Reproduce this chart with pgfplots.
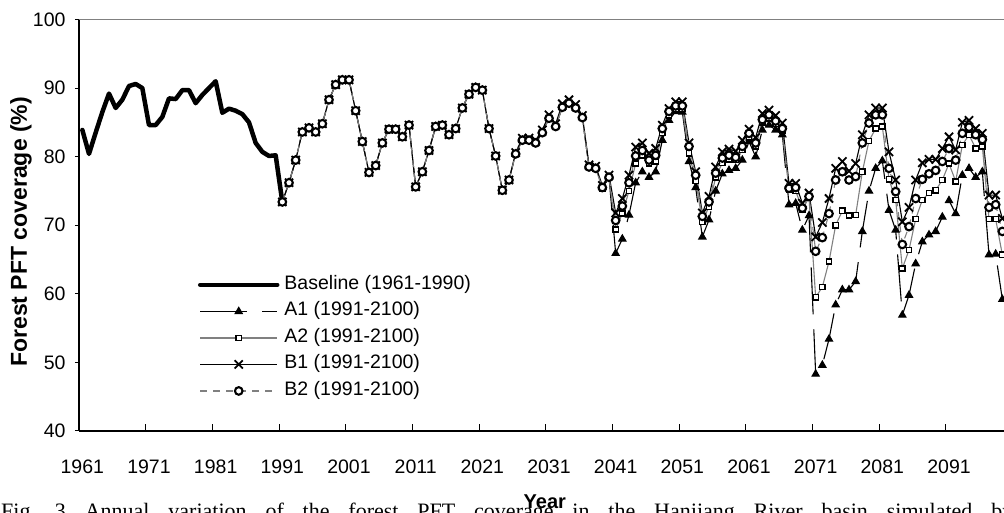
\documentclass[border=0pt]{standalone}
\usepackage{fontspec}
\setmainfont{Liberation Sans}
\newfontfamily\capfont{Liberation Serif}
\usepackage{pgfplots}
\pgfplotsset{compat=1.18}
\usepackage{pgfplotstable}

\pgfplotstableread{
year val
1961 83.9
1962 80.4
1963 83.5
1964 86.5
1965 89.2
1966 87.1
1967 88.3
1968 90.3
1969 90.6
1970 90.0
1971 84.6
1972 84.6
1973 85.8
1974 88.5
1975 88.4
1976 89.7
1977 89.7
1978 87.8
1979 89.0
1980 90.0
1981 91.0
1982 86.4
1983 87.0
1984 86.7
1985 86.2
1986 85.0
1987 82.0
1988 80.7
1989 80.1
1990 80.2
1991 73.4
}\baseline

\pgfplotstableread{
year A1 A2 B1 B2
1991 73.4 73.4 73.4 73.4
1992 76.2 76.2 76.2 76.2
1993 79.5 79.5 79.5 79.5
1994 83.6 83.6 83.6 83.6
1995 84.2 84.2 84.2 84.2
1996 83.6 83.6 83.6 83.6
1997 84.8 84.8 84.8 84.8
1998 88.3 88.3 88.3 88.3
1999 90.5 90.5 90.5 90.5
2000 91.2 91.2 91.2 91.2
2001 91.2 91.2 91.2 91.2
2002 86.7 86.7 86.7 86.7
2003 82.2 82.2 82.2 82.2
2004 77.7 77.7 77.7 77.7
2005 78.7 78.7 78.7 78.7
2006 82.0 82.0 82.0 82.0
2007 84.0 84.0 84.0 84.0
2008 84.0 84.0 84.0 84.0
2009 82.9 82.9 82.9 82.9
2010 84.6 84.6 84.6 84.6
2011 75.6 75.6 75.6 75.6
2012 77.8 77.8 77.8 77.8
2013 80.9 80.9 80.9 80.9
2014 84.4 84.4 84.4 84.4
2015 84.6 84.6 84.6 84.6
2016 83.2 83.2 83.2 83.2
2017 84.1 84.1 84.1 84.1
2018 87.1 87.1 87.1 87.1
2019 89.1 89.1 89.1 89.1
2020 90.1 90.1 90.1 90.1
2021 89.7 89.7 89.7 89.7
2022 84.1 84.1 84.1 84.1
2023 80.1 80.1 80.1 80.1
2024 75.1 75.1 75.1 75.1
2025 76.6 76.6 76.6 76.6
2026 80.4 80.4 80.6 80.4
2027 82.4 82.4 82.7 82.4
2028 82.4 82.4 82.7 82.4
2029 82.0 82.0 82.4 82.0
2030 83.5 83.5 83.9 83.5
2031 85.6 85.6 86.1 85.6
2032 84.4 84.4 84.8 84.4
2033 87.2 87.2 87.7 87.2
2034 87.8 87.8 88.3 87.8
2035 87.1 87.1 87.6 87.1
2036 85.7 85.7 86.0 85.7
2037 78.5 78.5 78.8 78.5
2038 78.3 78.3 78.6 78.3
2039 75.5 75.4 75.8 75.5
2040 77.0 77.0 77.3 77.0
2041 65.9 69.4 71.8 70.7
2042 68.0 71.7 73.9 72.8
2043 71.5 75.0 77.3 76.2
2044 76.2 79.0 81.4 80.1
2045 77.8 80.2 82.0 80.9
2046 77.0 79.0 80.5 79.5
2047 77.8 79.3 81.2 80.2
2048 82.4 83.5 84.6 84.1
2049 85.3 86.0 87.0 86.6
2050 86.6 87.0 88.0 87.4
2051 86.5 87.0 88.0 87.4
2052 79.3 80.5 82.0 81.5
2053 75.5 76.5 77.8 77.3
2054 68.3 70.5 71.8 71.3
2055 70.8 72.7 74.2 73.4
2056 75.0 77.0 78.5 77.6
2057 77.5 79.1 80.7 79.8
2058 78.0 79.6 81.1 80.2
2059 78.3 79.5 80.8 79.9
2060 79.5 81.0 82.4 81.5
2061 82.2 82.8 84.0 83.4
2062 80.0 81.5 82.8 82.0
2063 83.9 85.0 86.3 85.4
2064 84.6 85.6 86.8 86.1
2065 83.9 84.8 86.0 85.2
2066 83.2 83.8 84.9 84.1
2067 73.0 75.2 76.1 75.4
2068 73.2 75.0 76.1 75.5
2069 69.3 72.3 73.2 72.5
2070 71.4 74.0 74.7 74.2
2071 48.3 59.5 68.3 66.2
2072 49.6 61.0 70.4 68.2
2073 53.4 64.7 73.9 71.7
2074 58.4 70.0 78.3 76.6
2075 60.6 72.1 79.3 77.8
2076 60.6 71.4 77.9 76.6
2077 61.8 71.5 79.0 77.1
2078 69.1 77.8 83.2 82.0
2079 75.0 82.3 86.1 84.9
2080 78.3 84.1 87.1 86.1
2081 79.4 84.4 87.1 86.1
2082 72.2 76.7 80.7 78.3
2083 69.3 73.7 76.6 74.9
2084 56.9 63.7 70.5 67.2
2085 59.8 66.4 72.6 69.8
2086 64.4 70.9 76.6 73.9
2087 67.6 73.7 79.1 76.7
2088 68.6 74.7 79.6 77.5
2089 69.1 75.1 79.6 78.0
2090 71.2 76.6 81.2 79.3
2091 73.6 79.0 82.9 81.2
2092 71.7 76.4 81.0 79.5
2093 77.3 81.7 85.0 83.4
2094 78.3 83.2 85.3 84.3
2095 77.0 81.2 84.1 83.2
2096 77.8 81.5 83.4 82.5
2097 65.7 70.9 74.4 72.6
2098 65.8 70.9 74.4 73.0
2099 59.2 65.7 71.0 69.1
}\scen

\begin{document}
\begin{tikzpicture}
\useasboundingbox (-79pt,-82pt) rectangle (925pt,431pt);
\begin{axis}[
  at={(0pt,0pt)}, anchor=south west,
  width=926pt, height=411.5pt, scale only axis,
  xmin=1960.5, xmax=2099.4, ymin=40, ymax=100,
  axis x line*=bottom, axis y line*=left,
  axis line style={black, line width=1.2pt},
  /pgf/number format/assume math mode=true,
  tick label style={font=\fontsize{19.5}{20}\selectfont},
  xtick={1961,1971,1981,1991,2001,2011,2021,2031,2041,2051,2061,2071,2081,2091},
  xticklabels={1961,1971,1981,1991,2001,2011,2021,2031,2041,2051,2061,2071,2081,2091},
  minor xtick={1970.5,1980.5,1990.5,2000.5,2010.5,2020.5,2030.5,2040.5,2050.5,2060.5,2070.5,2080.5,2090.5},
  major x tick style={draw=none},
  minor x tick style={black, line width=1pt},
  xtick align=inside,
  minor tick length=7pt,
  xticklabel shift=25pt,
  ytick={40,50,60,70,80,90,100},
  ytick align=outside,
  y tick style={black, line width=1pt},
  major tick length=4pt,
  yticklabel style={xshift=-6pt},
  xlabel={Year},
  xlabel style={font=\bfseries\fontsize{20}{20}\selectfont, at={(axis description cs:0.503,-0.1895)}, anchor=base},
  ylabel={Forest PFT coverage (\%)},
  ylabel style={font=\bfseries\fontsize{23}{23}\selectfont, at={(axis description cs:-0.0626,0.484)}, anchor=center},
  legend image code/.code={\draw[mark repeat=2,mark phase=2,#1] plot coordinates {(0pt,0pt) (38.5pt,0pt) (77pt,0pt)};},
  legend cell align=left,
  legend style={draw=none, fill=none, inner sep=0pt, outer sep=0pt,
    at={(axis description cs:0.1285,0.378)}, anchor=north west,
    font=\fontsize{19.5}{20}\selectfont,
    nodes={inner sep=0pt, text height=14pt, text depth=5pt},
    row sep=7.5pt, column sep=5pt},
]
\addplot[black, line width=4.5pt, line join=round, line cap=round] table[x=year,y=val]{\baseline};
\addlegendentry{Baseline (1961-1990)}
\addplot[black, line width=1.1pt, dash pattern=on 47pt off 15pt, mark=triangle*, mark size=4.1pt, mark options={solid, fill=black, draw=black}] table[x=year,y=A1]{\scen};
\addlegendentry{A1 (1991-2100)}
\addplot[gray, line width=1.1pt, mark=square*, mark size=2.6pt, mark options={solid, draw=black, fill=white, line width=1.5pt}] table[x=year,y=A2]{\scen};
\addlegendentry{A2 (1991-2100)}
\addplot[black, line width=1.1pt, mark=x, mark size=5.8pt, mark options={solid, line width=1.8pt}] table[x=year,y=B1]{\scen};
\addlegendentry{B1 (1991-2100)}
\addplot[gray, line width=1.1pt, dash pattern=on 7pt off 6pt, mark=*, mark size=3.8pt, mark options={solid, draw=black, fill=white, line width=2.1pt}] table[x=year,y=B2]{\scen};
\addlegendentry{B2 (1991-2100)}
\end{axis}
\draw[gray, line width=1.2pt] (0pt,411.5pt) -- (930pt,411.5pt);
\node[anchor=base west, inner sep=0pt] at (-78pt,-88pt) {\capfont\fontsize{22}{26}\selectfont\makebox[1012pt][s]{Fig.\ 3 Annual variation of the forest PFT coverage in the Hanjiang River basin simulated by}};
\end{tikzpicture}
\end{document}
